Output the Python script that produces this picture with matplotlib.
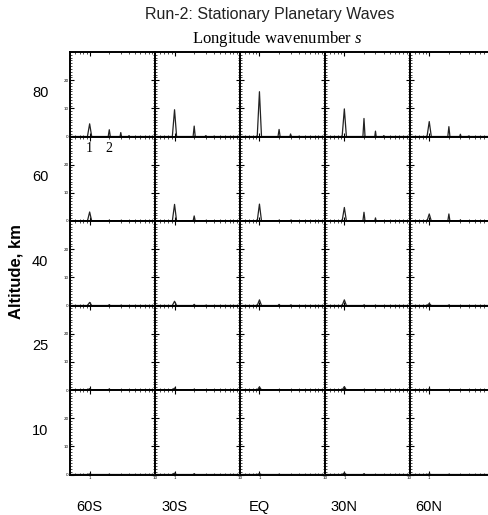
import numpy as np
import matplotlib
matplotlib.use("Agg")
import matplotlib.pyplot as plt
from matplotlib.ticker import FixedLocator, MultipleLocator

plt.rcParams["mathtext.fontset"] = "custom"
plt.rcParams["mathtext.rm"] = "Liberation Serif"
plt.rcParams["mathtext.it"] = "Liberation Serif:italic"

# ---- data ----
latitudes = ["60S", "30S", "EQ", "30N", "60N"]
altitudes = ["80", "60", "40", "25", "10"]
wavenumbers = [1, 2, 3, 4]

# amplitude at wavenumber s = 1..4 for each altitude row (top->bottom), per latitude column
amp_80 = {"60S": [4.5, 2.4, 1.4, 0.3], "30S": [9.5, 3.7, 0.3, 0.1], "EQ": [15.9, 2.5, 0.9, 0.1],
          "30N": [9.8, 6.4, 1.9, 0.3], "60N": [5.3, 3.5, 0.8, 0.2]}
amp_60 = {"60S": [3.2, 0.3, 0.2, 0.0], "30S": [5.9, 1.8, 0.2, 0.0], "EQ": [6.0, 0.3, 0.3, 0.0],
          "30N": [4.8, 3.1, 1.1, 0.1], "60N": [2.5, 2.5, 0.4, 0.0]}
amp_40 = {"60S": [1.1, 0.3, 0.1, 0.0], "30S": [1.5, 0.4, 0.1, 0.0], "EQ": [2.0, 0.4, 0.2, 0.0],
          "30N": [2.0, 0.2, 0.1, 0.0], "60N": [0.7, 0.2, 0.0, 0.0]}
amp_25 = {"60S": [0.5, 0.4, 0.0, 0.0], "30S": [0.7, 0.3, 0.0, 0.0], "EQ": [1.1, 0.2, 0.0, 0.0],
          "30N": [1.2, 0.2, 0.0, 0.0], "60N": [0.4, 0.1, 0.0, 0.0]}
amp_10 = {"60S": [0.2, 0.1, 0.0, 0.0], "30S": [0.5, 0.3, 0.0, 0.0], "EQ": [0.3, 0.1, 0.0, 0.0],
          "30N": [0.6, 0.3, 0.0, 0.0], "60N": [0.2, 0.1, 0.0, 0.0]}
rows = [amp_80, amp_60, amp_40, amp_25, amp_10]

x_major = [1, 10]
x_major_labels = ["1", "10"]
y_major = [0, 10, 20]

# ---- figure ----
W, H = 489, 515
fig = plt.figure(figsize=(W / 100, H / 100), dpi=100)
fig.patch.set_facecolor("white")

left0, top0 = 70.0, 52.0
pw, ph = 84.9, 84.5
half_width = 0.075  # spike half-width in wavenumber units

for r, amps in enumerate(rows):
    for c, lat in enumerate(latitudes):
        lp = left0 + pw * c
        tp = top0 + ph * r
        ax = fig.add_axes([lp / W, 1 - (tp + ph) / H, pw / W, ph / H])
        ax.set_xscale("log")
        ax.set_xlim(0.5, 10)
        ax.set_ylim(0, 30)
        xs, ys = [0.5], [0.0]
        for s, a in zip(wavenumbers, amps[lat]):
            xs += [s - half_width, s, s + half_width]
            ys += [0.0, a, 0.0]
        xs.append(10)
        ys.append(0.0)
        ax.plot(xs, ys, color="#222222", lw=0.9, clip_on=False, zorder=3)
        ax.axhline(0, color="black", lw=2.0, zorder=4)

        for sp in ax.spines.values():
            sp.set_linewidth(1.4)
            sp.set_color("black")

        ax.xaxis.set_major_locator(FixedLocator(x_major))
        ax.xaxis.set_minor_locator(FixedLocator([0.5, 0.6, 0.7, 0.8, 0.9, 2, 3, 4, 5, 6, 7, 8, 9]))
        ax.xaxis.set_minor_formatter(plt.NullFormatter())
        ax.yaxis.set_major_locator(FixedLocator(y_major))
        ax.yaxis.set_minor_locator(MultipleLocator(1))
        ax.tick_params(which="major", direction="in", length=3, width=0.8,
                       top=True, right=True, labelsize=3, pad=1, colors="black")
        ax.tick_params(which="minor", direction="in", length=1.5, width=0.5,
                       top=True, right=True)
        if c == len(latitudes) - 1:
            ax.set_xticklabels([x_major_labels[0], ""])
        else:
            ax.set_xticklabels(x_major_labels)
        if r != len(rows) - 1:
            ax.tick_params(labelbottom=False)
        if c != 0:
            ax.tick_params(labelleft=False)
        if c == 0:
            ax.text(-0.35, 0.52, altitudes[r], transform=ax.transAxes,
                    ha="center", va="center", fontsize=10.5, family="Liberation Sans")
        if r == len(rows) - 1:
            ax.text(1, -0.38, lat, transform=ax.get_xaxis_transform(),
                    ha="center", va="center", fontsize=10.5, family="Liberation Sans")
        if r == 1 and c == 0:
            for s in [1, 2]:
                ax.text(s, 0.855, str(s), transform=ax.get_xaxis_transform(),
                        ha="center", va="center", fontsize=10, family="Liberation Serif")

fig.text(270 / W, 1 - 14 / H, "Run-2: Stationary Planetary Waves", ha="center", va="center",
         fontsize=11.5, family="Liberation Sans", color="#222222")
fig.text(277 / W, 1 - 39 / H, "Longitude wavenumber $\\mathit{s}$", ha="center", va="center",
         fontsize=12, family="Liberation Serif")
fig.text(16 / W, 1 - 272 / H, "Altitude, km", ha="center", va="center", rotation=90,
         fontsize=12, fontweight="bold", family="Liberation Sans")

fig.savefig("out.png", dpi=100)
